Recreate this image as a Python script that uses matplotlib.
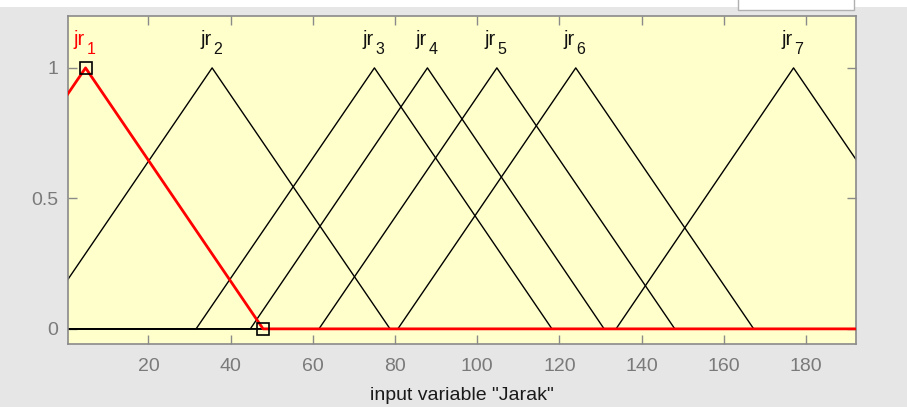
import matplotlib
matplotlib.use("Agg")
import matplotlib.pyplot as plt
from matplotlib.patches import Rectangle

plt.rcParams['font.family'] = ['Liberation Sans', 'DejaVu Sans']

# membership functions of "Jarak" (trimf params a, b, c)
mf_names = ['jr1', 'jr2', 'jr3', 'jr4', 'jr5', 'jr6', 'jr7']
mf_a = [-38.6, -7.8, 31.6, 44.8, 61.5, 80.7, 133.8]
mf_b = [4.7, 35.5, 75.0, 87.9, 104.8, 124.0, 177.0]
mf_c = [47.9, 78.8, 118.2, 130.9, 148.1, 167.3, 220.3]
selected = 0
x_range = [0.5, 192.2]
xticks = [20, 40, 60, 80, 100, 120, 140, 160, 180]
yticks = [0, 0.5, 1]

fig = plt.figure(figsize=(9.07, 4.07), dpi=100, facecolor='#e6e6e6')
# white strip at the top and partial box of the gui
fig.patches.append(Rectangle((0, 1 - 7/407), 1, 7/407, transform=fig.transFigure,
                             facecolor='white', edgecolor='none'))
fig.patches.append(Rectangle((738/907, 1 - 10/407), 116/907, 12/407, transform=fig.transFigure,
                             facecolor='white', edgecolor='#b0b0b0', lw=1))

ax = fig.add_axes([68.3/907, 1 - 344/407, (856 - 68.3)/907, (344 - 15.7)/407])
ax.set_facecolor('#ffffcc')

def draw_mf(i, color, lw):
    xs = [min(mf_a[i], x_range[0]), mf_a[i], mf_b[i], mf_c[i], max(mf_c[i], x_range[1])]
    ys = [0, 0, 1, 0, 0]
    ax.plot(xs, ys, color=color, lw=lw, zorder=3 if color == 'red' else 2)

def draw_label(i, color):
    name = mf_names[i]
    ax.text(mf_b[i] - 0.2, 1.089, name[:2], ha='right', va='baseline',
            fontsize=14.5, color=color)
    ax.annotate(name[2:], (mf_b[i] + 0.2, 1.089), xytext=(0, -7), textcoords='offset points',
                ha='left', va='baseline', fontsize=11.5, color=color)

for i in range(len(mf_names)):
    if i != selected:
        draw_mf(i, 'black', 1.0)
        draw_label(i, '#111111')
draw_mf(selected, 'red', 2.0)
draw_label(selected, 'red')
ax.plot([mf_b[selected], mf_c[selected]], [1, 0], ls='none', marker='s', ms=8,
        mfc='none', mec='black', mew=1.2, zorder=4, clip_on=False)

ax.set_xlim(x_range)
ax.set_ylim(-0.058, 1.2)
ax.set_xticks(xticks)
ax.set_yticks(yticks)
ax.set_yticklabels(['0', '0.5', '1'])
ax.tick_params(direction='in', length=6.5, width=1, color='#8a8a8a',
               labelcolor='#7a7a7a', labelsize=14, top=True, right=True)
ax.tick_params(axis='x', pad=10)
ax.tick_params(axis='y', pad=7)
for s in ax.spines.values():
    s.set_color('#8a8a8a')
    s.set_linewidth(1.2)
ax.set_xlabel('input variable "Jarak"', fontsize=14, color='#1a1a1a', labelpad=9)

fig.savefig('out.png', dpi=100, facecolor=fig.get_facecolor())
